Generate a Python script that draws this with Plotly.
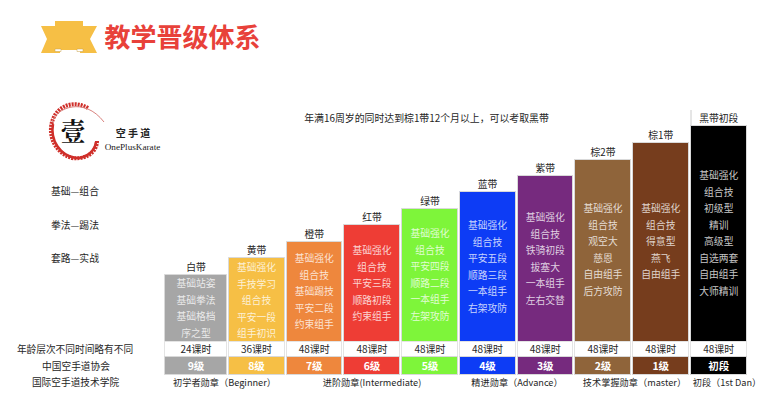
from plotly import graph_objs

#configuration options
chart_font = 'Noto Sans CJK SC'
chart_width = 771
chart_height = 405
page_margin = 8 #the browser keeps this much around the figure

#initialize things
go = graph_objs

#belt table, y values count in pixels from the top of the picture
belts = [
    {'name': '白带', 'left': 165, 'right': 227, 'top': 275, 'color': '#a6a6a6', 'hours': '24课时', 'level': '9级', 'first': 283,
     'lines': ['基础站姿', '基础拳法', '基础格档', '序之型']},
    {'name': '黄带', 'left': 228.5, 'right': 284.5, 'top': 258, 'color': '#f6bf45', 'hours': '36课时', 'level': '8级', 'first': 267,
     'lines': ['基础强化', '手技学习', '组合技', '平安一段', '组手初识']},
    {'name': '橙带', 'left': 286.5, 'right': 342, 'top': 242, 'color': '#ee873d', 'hours': '48课时', 'level': '7级', 'first': 258,
     'lines': ['基础强化', '组合技', '基础踢技', '平安二段', '约束组手']},
    {'name': '红带', 'left': 344, 'right': 400, 'top': 225, 'color': '#ee3d35', 'hours': '48课时', 'level': '6级', 'first': 250,
     'lines': ['基础强化', '组合技', '平安三段', '顺路初段', '约束组手']},
    {'name': '绿带', 'left': 402, 'right': 458, 'top': 209, 'color': '#7ef53a', 'hours': '48课时', 'level': '5级', 'first': 233,
     'lines': ['基础强化', '组合技', '平安四段', '顺路二段', '一本组手', '左架攻防']},
    {'name': '蓝带', 'left': 459.5, 'right': 515.5, 'top': 192, 'color': '#0d3cf5', 'hours': '48课时', 'level': '4级', 'first': 225,
     'lines': ['基础强化', '组合技', '平安五段', '顺路三段', '一本组手', '右架攻防']},
    {'name': '紫带', 'left': 517.5, 'right': 573, 'top': 176, 'color': '#762a7e', 'hours': '48课时', 'level': '3级', 'first': 217,
     'lines': ['基础强化', '组合技', '铁骑初段', '拔塞大', '一本组手', '左右交替']},
    {'name': '棕2带', 'left': 575, 'right': 631, 'top': 159.5, 'color': '#8f643a', 'hours': '48课时', 'level': '2级', 'first': 208,
     'lines': ['基础强化', '组合技', '观空大', '慈恩', '自由组手', '后方攻防']},
    {'name': '棕1带', 'left': 633, 'right': 688.5, 'top': 143, 'color': '#763d1d', 'hours': '48课时', 'level': '1级', 'first': 208,
     'lines': ['基础强化', '组合技', '得意型', '燕飞', '自由组手']},
    {'name': '黑带初段', 'left': 691, 'right': 746.5, 'top': 126, 'color': '#000000', 'hours': '48课时', 'level': '初段', 'first': 175,
     'lines': ['基础强化', '组合技', '初级型', '精训', '高级型', '自选两套', '自由组手', '大师精训']},
]

#free standing labels: text, x, y, size
labels = [
    ['年满16周岁的同时达到棕1带12个月以上，可以考取黑带', 426.5, 118, 9.9],
    ['基础—组合', 75, 191, 9.8],
    ['拳法—踢法', 75, 225, 9.8],
    ['套路—实战', 75, 258, 9.8],
    ['年龄层次不同时间略有不同', 75, 349, 9.7],
    ['中国空手道协会', 76, 366, 9.7],
    ['国际空手道技术学院', 75.5, 382, 9.7],
    ['初学者勋章（Beginner）', 224.5, 382, 9.2],
    ['进阶勋章(Intermediate)', 372, 382, 9.2],
    ['精进勋章（Advance）', 517, 382, 9.2],
    ['技术掌握勋章（master）', 634.5, 382, 9.2],
    ['初段（1st Dan）', 727, 382, 9.2],
]

def add_bar_row(fig, base, height, colors, linecolor='#d9d9d9'):
    '''
    Takes row bottom, height list, colors, adds one row of bars.
    '''
    fig.add_trace(go.Bar(x=[(b['left'] + b['right']) / 2 for b in belts],
                         y=height,
                         base=base,
                         width=[b['right'] - b['left'] for b in belts],
                         marker=dict(color=colors, line=dict(color=linecolor, width=1)),
                         hoverinfo='skip',
                         showlegend=False))

def add_text(fig, x, y, text, size, color, weight='normal', family=chart_font):
    '''
    Takes positions and strings, adds a text only trace.
    Plotly sets this font a little high, so y moves down with the size.
    '''
    fig.add_trace(go.Scatter(x=x, y=[v + size * 0.17 for v in y], text=text, mode='text',
                             textposition='middle center',
                             textfont=dict(size=size, color=color, family=family, weight=weight),
                             hoverinfo='skip',
                             showlegend=False))

fig = go.Figure()

#belt columns, hours row, level row
add_bar_row(fig, 341.5, [b['top'] - 341.5 for b in belts], [b['color'] for b in belts])
add_bar_row(fig, 357, [-15.5 for b in belts], ['#ffffff' for b in belts], '#e4e4e4')
add_bar_row(fig, 375, [-18 for b in belts], [b['color'] for b in belts])

i = 0
while i < len(belts):
    b = belts[i]
    center = (b['left'] + b['right']) / 2
    y_lines = [b['first'] + n * 16.55 for n in range(len(b['lines']))]
    add_text(fig, [center] * len(b['lines']), y_lines, b['lines'], 9.8, 'rgba(255,255,255,0.78)')
    add_text(fig, [center], [b['top'] - 8], [b['name']], 9.8, '#262626')
    add_text(fig, [center], [349], [b['hours']], 10, '#262626')
    add_text(fig, [center], [366], [b['level']], 10.5, '#ffffff', 'bold')
    i += 1

for label in labels:
    add_text(fig, [label[1]], [label[2]], [label[0]], label[3], '#262626')

#heading and logo
add_text(fig, [182.5], [36.5], ['教学晋级体系'], 26, '#e8413a', 'bold')
add_text(fig, [73], [130], ['壹'], 25, '#111111', 'bold', 'Noto Serif CJK SC, Noto Sans CJK SC')
add_text(fig, [133], [133], ['空 手 道'], 10, '#222222', 'bold')
add_text(fig, [132.5], [146.5], ['OnePlusKarate'], 9.2, '#222222', 'normal', 'Liberation Serif')

ribbon_color = '#f6bf45'
fig.update_layout(shapes=[
    dict(type='path', path='M 41 26 L 60 26 L 60 53 L 41 53 L 47 39 Z', fillcolor=ribbon_color, line_width=0),
    dict(type='path', path='M 80 26 L 97 26 L 90 39 L 97 53 L 80 53 Z', fillcolor=ribbon_color, line_width=0),
    dict(type='rect', x0=55, x1=83, y0=21, y1=50, fillcolor=ribbon_color, line_width=0),
    dict(type='rect', x0=55, x1=61, y0=49, y1=51.5, fillcolor='#ffffff', line=dict(color='#c8a24a', width=0.5)),
    dict(type='rect', x0=77, x1=83, y0=49, y1=51.5, fillcolor='#ffffff', line=dict(color='#c8a24a', width=0.5)),
    dict(type='path', path='M 88 108 C 76 101 62 104 55 115 C 46 130 52 152 72 158 C 86 160 97 152 97 141',
         line=dict(color='#cf2f2a', width=4, dash='2px,1px'), fillcolor='rgba(0,0,0,0)'),
    dict(type='path', path='M 52 122 C 56 108 84 96 104 122',
         line=dict(color='#d9827e', width=1), fillcolor='rgba(0,0,0,0)'),
    dict(type='path', path='M 53 124 C 50 140 60 156 76 158 C 88 158 95 150 96 142',
         line=dict(color='#cf2f2a', width=2.5), fillcolor='rgba(0,0,0,0)'),
    dict(type='line', x0=691, x1=691, y0=110, y1=126, line=dict(color='#cccccc', width=1)),
])

#axes run in picture pixels so the bars sit where they should
fig.update_xaxes(range=[page_margin, chart_width], visible=False, fixedrange=True)
fig.update_yaxes(range=[chart_height, page_margin], visible=False, fixedrange=True)
fig.update_layout(font_size=10, font_family=chart_font, barmode='overlay', bargap=0)
fig.update_layout(paper_bgcolor='rgb(255,255,255)', plot_bgcolor='rgb(255,255,255)')
fig.update_layout(width=chart_width - page_margin, height=chart_height - page_margin, margin=dict(l=0, r=0, t=0, b=0))

fig.write_html("out.html")
